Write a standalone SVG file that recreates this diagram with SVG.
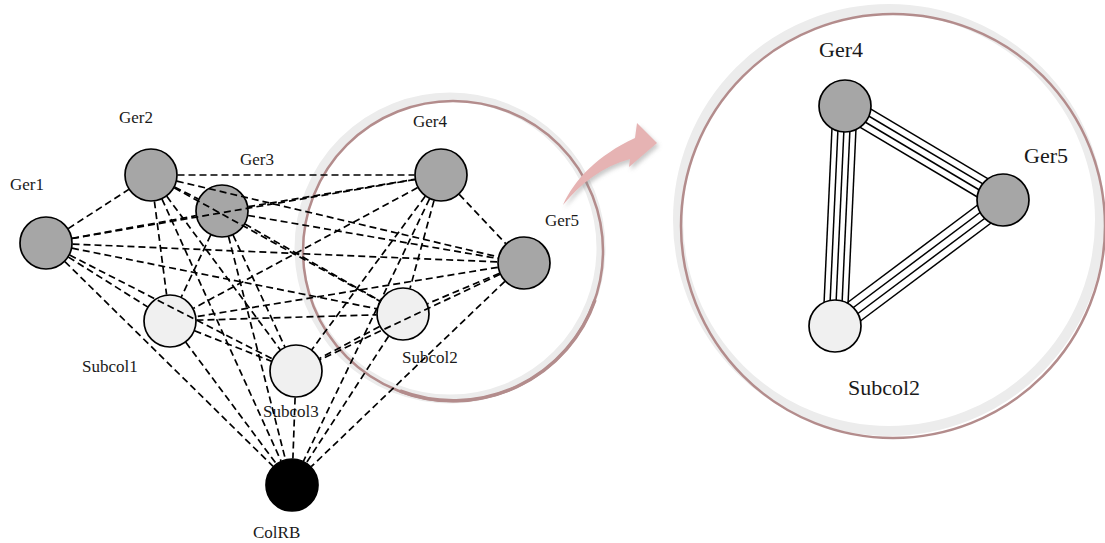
<svg xmlns="http://www.w3.org/2000/svg" width="1105" height="543" viewBox="0 0 1105 543">
  <defs>
    <style>
      .lbl { font-family: "Liberation Serif", "Times New Roman", serif; fill: #1a1a1a; }
      .sm { font-size: 17px; }
      .lg { font-size: 22px; }
      .node { stroke: #000; stroke-width: 1.7; }
      .ger { fill: #a6a6a6; }
      .sub { fill: #f0f0f0; }
      .col { fill: #000; }
      .dash { stroke: #000; stroke-width: 1.7; stroke-dasharray: 7 4; fill: none; }
      .band line { stroke: #000; stroke-width: 1.5; }
      .rim { fill: none; stroke: #ececec; }
      .rim-edge { fill: none; stroke: #b38c8c; }
    </style>
    <filter id="soft" x="-20%" y="-20%" width="150%" height="150%">
      <feDropShadow dx="2" dy="3" stdDeviation="2" flood-color="#888" flood-opacity="0.45"/>
    </filter>
  </defs>

  <rect width="1105" height="543" fill="#fff"/>

  <!-- magnifier rims -->
  <g id="lens-left">
    <circle class="rim" cx="450" cy="248" r="151" stroke-width="9"/>
    <circle class="rim-edge" cx="453" cy="251" r="150" stroke-width="2.5"/>
    <path class="rim-edge" d="M595,300 A150,150 0 0 1 400,391" stroke-width="3.5"/>
  </g>
  <g id="lens-right">
    <circle class="rim" cx="889" cy="220" r="211" stroke-width="10"/>
    <circle class="rim-edge" cx="893" cy="226" r="212" stroke-width="2.5"/>
  </g>

  <!-- curved pointer between the two views -->
  <g id="pointer">
    <path d="M563,205 C574,180 598,155 635,138 L637,123 L657,143 L629,167 L630,159 C602,167 582,182 563,205 Z" fill="#e6b3b3" filter="url(#soft)"/>
  </g>

  <!-- left network: nodes -->
  <g id="Ger1"><circle class="node ger" cx="46" cy="243" r="26"/><text class="lbl sm" x="10" y="190">Ger1</text></g>
  <g id="Ger2"><circle class="node ger" cx="151" cy="175" r="26"/><text class="lbl sm" x="119" y="123">Ger2</text></g>
  <g id="Ger3"><circle class="node ger" cx="222" cy="211" r="26"/><text class="lbl sm" x="240" y="165">Ger3</text></g>
  <g id="Ger4"><circle class="node ger" cx="441" cy="175" r="26"/><text class="lbl sm" x="413" y="127">Ger4</text></g>
  <g id="Ger5"><circle class="node ger" cx="524" cy="263" r="26"/><text class="lbl sm" x="545" y="226">Ger5</text></g>
  <g id="Subcol1"><circle class="node sub" cx="170" cy="321" r="26"/><text class="lbl sm" x="82" y="372">Subcol1</text></g>
  <g id="Subcol2"><circle class="node sub" cx="403" cy="314" r="26"/><text class="lbl sm" x="402" y="363">Subcol2</text></g>
  <g id="Subcol3"><circle class="node sub" cx="296" cy="371" r="26"/><text class="lbl sm" x="263" y="417">Subcol3</text></g>
  <g id="ColRB"><circle class="node col" cx="292" cy="485" r="26"/><text class="lbl sm" x="253" y="538">ColRB</text></g>

  <!-- left network: dashed links, trimmed to node borders -->
  <g id="connectors-left" class="dash">
    <line x1="68.2" y1="228.6" x2="128.8" y2="189.4"/>
    <line x1="72.1" y1="238.3" x2="195.9" y2="215.7"/>
    <line x1="72.1" y1="238.5" x2="414.9" y2="179.5"/>
    <line x1="72.5" y1="244.1" x2="497.5" y2="261.9"/>
    <line x1="68.4" y1="257.1" x2="147.6" y2="306.9"/>
    <line x1="72.0" y1="248.2" x2="377.0" y2="308.8"/>
    <line x1="69.6" y1="255.1" x2="272.4" y2="358.9"/>
    <line x1="64.9" y1="261.6" x2="273.1" y2="466.4"/>
    <line x1="174.6" y1="187.0" x2="198.4" y2="199.0"/>
    <line x1="177.5" y1="175.0" x2="414.5" y2="175.0"/>
    <line x1="176.8" y1="181.1" x2="498.2" y2="256.9"/>
    <line x1="154.4" y1="201.3" x2="166.6" y2="294.7"/>
    <line x1="174.2" y1="187.8" x2="379.8" y2="301.2"/>
    <line x1="166.8" y1="196.3" x2="280.2" y2="349.7"/>
    <line x1="162.0" y1="199.1" x2="281.0" y2="460.9"/>
    <line x1="248.2" y1="206.7" x2="414.9" y2="179.3"/>
    <line x1="248.1" y1="215.5" x2="497.9" y2="258.5"/>
    <line x1="210.7" y1="235.0" x2="181.3" y2="297.0"/>
    <line x1="245.0" y1="224.1" x2="380.0" y2="300.9"/>
    <line x1="233.1" y1="235.1" x2="284.9" y2="347.0"/>
    <line x1="228.6" y1="236.7" x2="285.4" y2="459.3"/>
    <line x1="459.2" y1="194.3" x2="505.8" y2="243.7"/>
    <line x1="417.7" y1="187.6" x2="193.3" y2="308.4"/>
    <line x1="434.0" y1="200.6" x2="410.0" y2="288.4"/>
    <line x1="425.2" y1="196.3" x2="311.8" y2="349.7"/>
    <line x1="429.5" y1="198.9" x2="303.5" y2="461.1"/>
    <line x1="497.8" y1="267.3" x2="196.2" y2="316.7"/>
    <line x1="499.6" y1="273.3" x2="427.4" y2="303.7"/>
    <line x1="500.1" y1="274.3" x2="320.0" y2="359.7"/>
    <line x1="504.9" y1="281.3" x2="311.2" y2="466.7"/>
    <line x1="196.5" y1="320.2" x2="376.5" y2="314.8"/>
    <line x1="194.6" y1="330.8" x2="271.4" y2="361.2"/>
    <line x1="185.8" y1="342.3" x2="276.2" y2="463.7"/>
    <line x1="379.6" y1="326.5" x2="319.4" y2="358.5"/>
    <line x1="388.6" y1="336.2" x2="306.4" y2="462.8"/>
    <line x1="295.1" y1="397.5" x2="292.9" y2="458.5"/>
  </g>

  <!-- right detail: multi-line links -->
  <g id="connectors-right" class="band">
    <g transform="translate(845,106) rotate(30.75)">
      <line x1="0" y1="-10.5" x2="183.8" y2="-10.5"/>
      <line x1="0" y1="-3.5" x2="183.8" y2="-3.5"/>
      <line x1="0" y1="3.5" x2="183.8" y2="3.5"/>
      <line x1="0" y1="10.5" x2="183.8" y2="10.5"/>
    </g>
    <g transform="translate(845,106) rotate(92.6)">
      <line x1="0" y1="-12" x2="220.2" y2="-12"/>
      <line x1="0" y1="-6" x2="220.2" y2="-6"/>
      <line x1="0" y1="0" x2="220.2" y2="0"/>
      <line x1="0" y1="6" x2="220.2" y2="6"/>
      <line x1="0" y1="12" x2="220.2" y2="12"/>
    </g>
    <g transform="translate(1003,200) rotate(143.13)">
      <line x1="0" y1="-11.25" x2="210" y2="-11.25"/>
      <line x1="0" y1="-3.75" x2="210" y2="-3.75"/>
      <line x1="0" y1="3.75" x2="210" y2="3.75"/>
      <line x1="0" y1="11.25" x2="210" y2="11.25"/>
    </g>
  </g>

  <!-- right detail: nodes -->
  <g id="Ger4-detail"><circle class="node ger" cx="845" cy="106" r="26"/><text class="lbl lg" x="819" y="57">Ger4</text></g>
  <g id="Ger5-detail"><circle class="node ger" cx="1003" cy="200" r="26"/><text class="lbl lg" x="1024" y="163">Ger5</text></g>
  <g id="Subcol2-detail"><circle class="node sub" cx="835" cy="326" r="26"/><text class="lbl lg" x="848" y="395">Subcol2</text></g>
</svg>
